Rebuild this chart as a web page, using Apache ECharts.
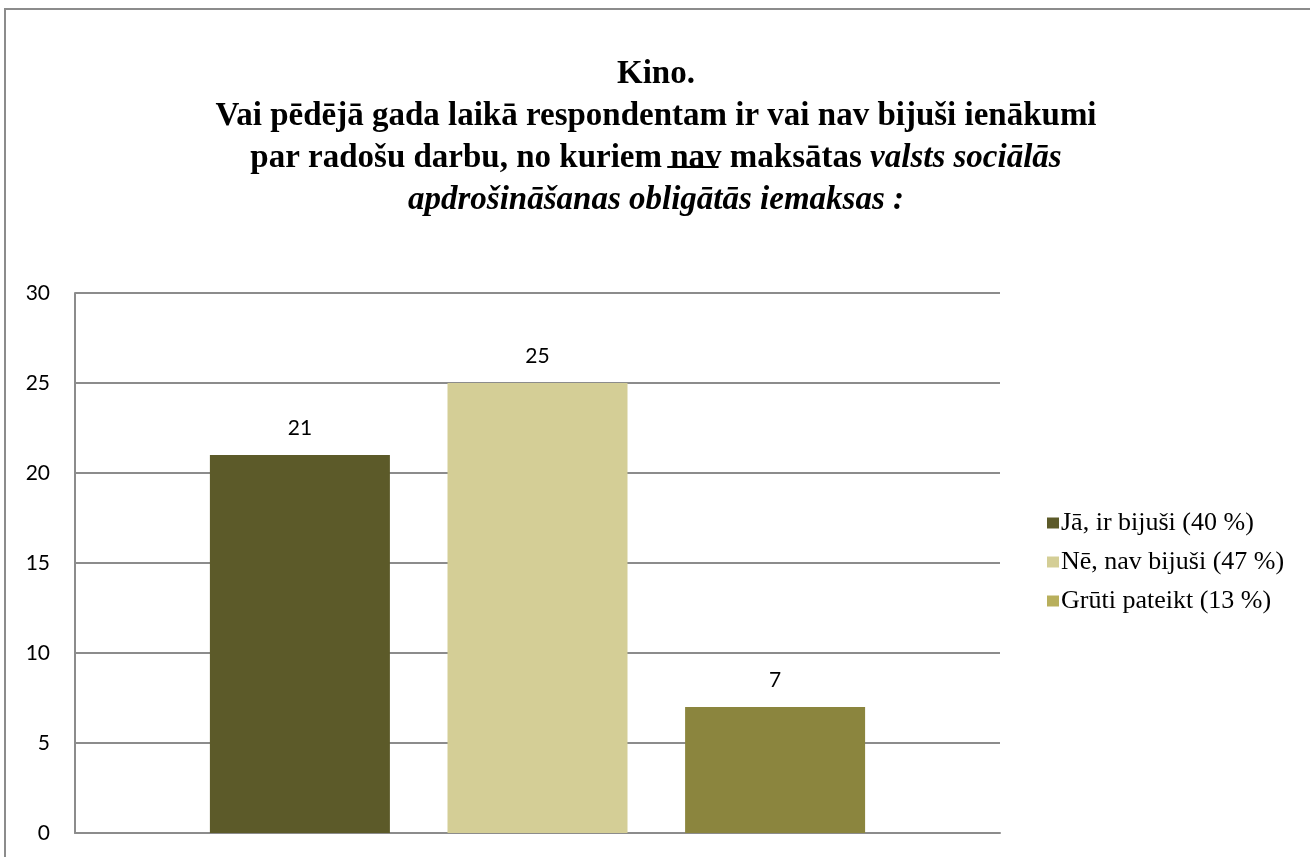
<!DOCTYPE html>
<html>
<head>
<meta charset="utf-8">
<script src="https://cdn.jsdelivr.net/npm/echarts@6/dist/echarts.min.js"></script>
<style>
  html, body { margin: 0; padding: 0; background: #fff; }
  #chart { width: 1310px; height: 857px; }
</style>
</head>
<body>
<div id="chart"></div>
<script>
// dati
const categories = ["Kino"];
const seriesNames = ["Jā, ir bijuši (40 %)", "Nē, nav bijuši (47 %)", "Grūti pateikt (13 %)"];
const seriesValues = [21, 25, 7];
const barColors = ["#5C5A29", "#D4CE96", "#8B853E"];
const legendColors = ["#5C5A29", "#D4CE96", "#B8AF5C"];
const yTicks = [0, 5, 10, 15, 20, 25, 30];

const chart = echarts.init(document.getElementById("chart"));

const serif = "'Liberation Serif', 'Times New Roman', serif";
const sans = "Lato, 'Noto Sans', sans-serif";
const titleSize = 33;
const titleCenter = 651;
const titleTop = 48;
const titleLine = 42;

// trešās rindas daļas (pasvītrojuma novietojumam)
const line3 = [
   ["b", "par radošu darbu, no kuriem "],
   ["b", "nav"],
   ["b", " maksātas "],
   ["i", "valsts sociālās"],
];

function measure(style, txt) {
   const ctx = document.createElement("canvas").getContext("2d");
   ctx.font = (style === "i" ? "italic " : "") + "bold " + titleSize + "px " + serif;
   return ctx.measureText(txt).width;
}
const widths = line3.map((p) => measure(p[0], p[1]));
const total = widths.reduce((a, b) => a + b, 0);
const navX = titleCenter - total / 2 + widths[0];
const navW = widths[1];

const option = {
   backgroundColor: "#fff",
   animation: false,
   // virsraksts
   title: {
      left: titleCenter,
      top: titleTop,
      textAlign: "center",
      text:
         "{b|Kino.}\n" +
         "{b|Vai pēdējā gada laikā respondentam ir vai nav bijuši ienākumi}\n" +
         line3.map((p) => "{" + p[0] + "|" + p[1] + "}").join("") + "\n" +
         "{i|apdrošināšanas obligātās iemaksas :}",
      textStyle: {
         rich: {
            b: { fontFamily: serif, fontWeight: "bold", fontSize: titleSize, lineHeight: titleLine, color: "#000" },
            i: { fontFamily: serif, fontWeight: "bold", fontStyle: "italic", fontSize: titleSize, lineHeight: titleLine, color: "#000" },
         },
      },
   },
   // leģenda
   legend: {
      orient: "vertical",
      left: 1042,
      top: 505,
      icon: "rect",
      itemWidth: 12,
      itemHeight: 11,
      itemGap: 13,
      textStyle: { fontFamily: serif, fontSize: 26, color: "#000", padding: [0, 0, 0, -3] },
      data: seriesNames.map((n, i) => ({ name: n, itemStyle: { color: legendColors[i] } })),
   },
   grid: { left: 75, right: 310, top: 293, bottom: 24, containLabel: false },
   xAxis: {
      type: "category",
      data: categories,
      axisTick: { show: false },
      axisLabel: { show: false },
      axisLine: { show: true, lineStyle: { color: "#8C8C8C", width: 2 } },
   },
   yAxis: {
      type: "value",
      min: yTicks[0],
      max: yTicks[yTicks.length - 1],
      interval: 5,
      axisTick: { show: false },
      axisLine: { show: true, lineStyle: { color: "#8C8C8C", width: 2 } },
      axisLabel: { fontFamily: sans, fontSize: 21, color: "#000", margin: 25 },
      splitLine: { show: true, lineStyle: { color: "#8C8C8C", width: 2 } },
   },
   series: seriesNames.map((n, i) => ({
      name: n,
      type: "bar",
      barWidth: 180,
      barGap: "32%",
      itemStyle: { color: barColors[i] },
      label: {
         show: true,
         position: "top",
         distance: 16,
         fontFamily: sans,
         fontSize: 21,
         color: "#000",
      },
      data: [seriesValues[i]],
   })),
   // ārējais rāmis un pasvītrojums
   graphic: [
      {
         type: "rect",
         shape: { x: 5, y: 9, width: 1320, height: 900 },
         style: { fill: "none", stroke: "#8C8C8C", lineWidth: 2 },
         silent: true,
      },
      {
         type: "rect",
         shape: { x: navX + 2, y: titleTop + titleLine * 2.5 + 13, width: navW, height: 2 },
         style: { fill: "#000" },
         silent: true,
      },
   ],
};

chart.setOption(option);
</script>
</body>
</html>
